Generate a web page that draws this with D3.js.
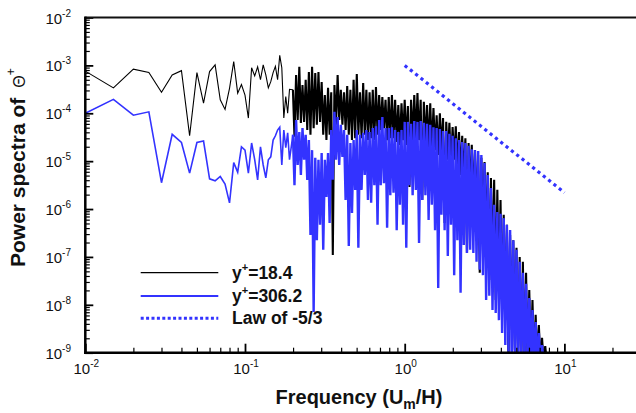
<!DOCTYPE html>
<html>
<head>
<meta charset="utf-8">
<script src="https://cdn.jsdelivr.net/npm/d3@7"></script>
<style>
  body { margin: 0; background: #fff; }
  svg { display: block; font-family: "Liberation Sans", Arial, sans-serif; }
</style>
</head>
<body>
<script>
// ---- data (power given as log10 exponents) ----
// low frequencies, one point per sample (df = 0.005)
const lowFreq = [0.010, 0.015, 0.020, 0.025, 0.030, 0.035, 0.040, 0.045, 0.050, 0.055,
  0.060, 0.065, 0.070, 0.075, 0.080, 0.085, 0.090, 0.095, 0.100, 0.105,
  0.110, 0.115, 0.120, 0.125, 0.130, 0.135, 0.140, 0.145, 0.150, 0.155,
  0.160, 0.165, 0.170, 0.175, 0.180, 0.185, 0.190];
const blackLow = [-3.12, -3.47, -3.08, -3.15, -3.56, -3.20, -3.11, -4.47, -3.15, -3.79,
  -3.13, -2.99, -3.72, -3.92, -3.48, -2.92, -3.58, -3.40, -3.62, -4.10,
  -3.05, -3.22, -3.03, -3.30, -2.99, -3.20, -3.47, -3.34, -3.15, -3.02,
  -3.30, -2.79, -3.05, -4.10, -3.65, -4.00, -3.50];
const blueLow = [-4.00, -3.71, -4.04, -3.97, -5.45, -4.44, -4.61, -5.25, -4.61, -4.58,
  -5.37, -5.41, -5.32, -5.48, -5.87, -5.03, -5.23, -4.70, -4.77, -5.25,
  -4.62, -4.97, -5.39, -4.70, -5.08, -5.35, -4.97, -4.91, -4.56, -4.47,
  -4.35, -4.29, -5.08, -4.35, -4.72, -4.41, -4.97];

// dense part: upper / lower value of the band at each frequency
const denseFreq = [0.1995, 0.2089, 0.2188, 0.2291, 0.2399, 0.2512, 0.2630, 0.2754, 0.2884, 0.3020,
  0.3162, 0.3311, 0.3467, 0.3631, 0.3802, 0.3981, 0.4169, 0.4365, 0.4571, 0.4786,
  0.5012, 0.5248, 0.5495, 0.5754, 0.6026, 0.6310, 0.6607, 0.6918, 0.7244, 0.7586,
  0.7943, 0.8318, 0.8710, 0.9120, 0.9550, 1.000, 1.047, 1.096, 1.148, 1.202,
  1.259, 1.318, 1.380, 1.445, 1.514, 1.585, 1.660, 1.738, 1.820, 1.905,
  1.995, 2.089, 2.188, 2.291, 2.399, 2.512, 2.630, 2.754, 2.884, 3.020,
  3.162, 3.311, 3.467, 3.631, 3.802, 3.981, 4.169, 4.365, 4.571, 4.786,
  5.012, 5.248, 5.495, 5.754, 6.026, 6.310, 6.607, 6.918, 7.244, 7.586,
  7.943, 8.318, 8.710];
const blackHi = [-3.51, -3.20, -3.03, -3.41, -3.30, -3.14, -3.03, -3.16, -3.14, -3.35,
  -3.62, -3.47, -3.56, -3.41, -3.20, -3.51, -3.56, -3.43, -3.51, -3.30,
  -3.18, -3.56, -3.37, -3.51, -3.56, -3.51, -3.45, -3.62, -3.66, -3.72,
  -3.66, -3.62, -3.72, -3.83, -3.79, -3.72, -3.85, -3.72, -3.62, -3.58,
  -3.72, -3.76, -3.83, -3.79, -3.89, -4.04, -4.00, -4.10, -4.18, -4.20,
  -4.29, -4.27, -4.39, -4.47, -4.52, -4.62, -4.66, -4.77, -4.87, -4.93,
  -5.02, -5.23, -5.35, -5.39, -5.60, -5.81, -6.12, -6.33, -6.54, -6.65,
  -6.81, -7.00, -7.10, -7.33, -7.69, -7.90, -8.21, -8.42, -8.69, -8.86,
  -9.11, -9.2, -9.2];
const blackLo = [-4.49, -4.14, -4.20, -4.18, -4.35, -4.45, -4.31, -4.24, -4.18, -4.45,
  -4.56, -4.45, -6.96, -4.24, -4.14, -4.24, -4.35, -4.45, -4.56, -4.52,
  -4.45, -4.52, -4.45, -4.56, -4.52, -4.56, -4.45, -4.35, -4.31, -4.56,
  -4.52, -4.52, -4.60, -4.66, -4.56, -4.66, -5.54, -4.56, -4.56, -4.56,
  -5.81, -4.66, -4.77, -4.77, -4.77, -4.87, -4.77, -6.29, -4.97, -5.08,
  -4.97, -5.18, -5.29, -5.39, -6.92, -5.60, -5.81, -6.02, -7.33, -6.44,
  -6.65, -7.48, -7.27, -7.90, -7.69, -8.11, -8.32, -9.2, -8.52, -8.94,
  -9.2, -9.2, -9.2, -9.2, -9.2, -9.2, -9.2, -9.2, -9.2, -9.2,
  -9.2, -9.2, -9.2];
const blueHi = [-4.45, -4.14, -4.39, -4.31, -4.45, -4.56, -4.77, -4.93, -4.97, -4.83,
  -4.97, -4.83, -4.35, -3.97, -4.08, -4.24, -4.35, -4.45, -4.62, -4.56,
  -4.35, -4.45, -4.41, -4.35, -4.39, -4.31, -4.27, -4.14, -4.08, -4.31,
  -4.31, -4.29, -4.35, -4.39, -4.35, -4.18, -4.18, -4.22, -4.16, -4.18,
  -4.16, -4.20, -4.22, -4.24, -4.29, -4.31, -4.33, -4.37, -4.37, -4.43,
  -4.47, -4.52, -4.56, -4.60, -4.62, -4.68, -4.75, -4.77, -4.79, -4.87,
  -5.04, -5.29, -5.56, -5.91, -6.06, -6.10, -6.19, -6.33, -6.44, -6.65,
  -6.85, -7.10, -7.33, -7.56, -7.86, -8.11, -8.36, -8.59, -8.84, -9.11,
  -9.2, -9.2, -9.2];
const blueLo = [-5.50, -5.08, -5.29, -4.97, -5.39, -6.54, -8.15, -6.65, -6.33, -6.85,
  -5.75, -6.29, -5.39, -4.97, -5.08, -4.91, -5.81, -6.77, -6.08, -5.60,
  -6.81, -5.60, -5.29, -5.81, -5.87, -5.50, -6.33, -5.50, -5.46, -6.39,
  -5.71, -5.66, -6.44, -5.91, -6.33, -6.81, -5.50, -5.71, -5.60, -6.71,
  -5.81, -5.71, -6.23, -5.91, -6.44, -7.65, -6.12, -6.44, -6.98, -6.33,
  -7.38, -6.65, -7.75, -6.75, -6.92, -6.85, -6.92, -7.10, -7.27, -7.38,
  -7.90, -7.81, -8.11, -8.17, -8.32, -8.59, -8.84, -8.98, -9.2, -9.2,
  -9.2, -9.2, -9.2, -9.2, -9.2, -9.2, -9.2, -9.2, -9.2, -9.2,
  -9.2, -9.2, -9.2];

// reference slope line
const lawFreq = [1, 10];
const lawPow = [1.0e-3, 2.2e-6];

const xMajor = [0.01, 0.1, 1, 10];
const xMinor = [0.02, 0.03, 0.04, 0.05, 0.06, 0.07, 0.08, 0.09, 0.2, 0.3, 0.4, 0.5, 0.6, 0.7, 0.8, 0.9,
  2, 3, 4, 5, 6, 7, 8, 9, 20];
const yExp = [-9, -8, -7, -6, -5, -4, -3, -2];
const legendLabels = [["y", "+", "=18.4"], ["y", "+", "=306.2"], ["Law of -5/3", "", ""]];

// ---- chart ----
const W = 636, H = 413;
const blue = "#3333ff";
const svg = d3.select("body").append("svg").attr("width", W).attr("height", H);

const x = d3.scaleLog().domain([0.01, 30]).range([85.3, 640.6]);
const y = d3.scaleLog().domain([1e-9, 1e-2]).range([352.7, 17.5]);

svg.append("clipPath").attr("id", "plot")
  .append("rect").attr("x", 85.3).attr("y", 17.5).attr("width", W - 85).attr("height", 335.2);

// sparse part (plus first dense point so the two paths join)
function lowPart(lowE, hi) {
  return lowFreq.map((f, i) => [f, Math.pow(10, lowE[i])])
    .concat([[denseFreq[0], Math.pow(10, hi[0])]]);
}
// dense part: zig-zag between band top and bottom
function densePart(hi, lo) {
  const pts = [];
  denseFreq.forEach((f, i) => {
    pts.push([f, Math.pow(10, hi[i])]);
    pts.push([f * 1.023, Math.pow(10, lo[i])]);
  });
  return pts;
}

const line = d3.line().x(d => x(d[0])).y(d => y(d[1]));
const plot = svg.append("g").attr("clip-path", "url(#plot)");

function drawSeries(lowE, hi, lo, color, w1, w2) {
  plot.append("path").attr("d", line(lowPart(lowE, hi)))
    .attr("fill", "none").attr("stroke", color).attr("stroke-width", w1);
  plot.append("path").attr("d", line(densePart(hi, lo)))
    .attr("fill", "none").attr("stroke", color).attr("stroke-width", w2)
    .attr("stroke-linejoin", "bevel");
}
drawSeries(blackLow, blackHi, blackLo, "#000", 1.1, 2.1);
drawSeries(blueLow, blueHi, blueLo, blue, 1.6, 2.4);

plot.append("path")
  .attr("d", line(lawFreq.map((f, i) => [f, lawPow[i]])))
  .attr("fill", "none").attr("stroke", blue).attr("stroke-width", 3.2)
  .attr("stroke-dasharray", "3.2,3.6");

// axes: ticks point inward
const yMinor = [];
yExp.slice(0, -1).forEach(e => { for (let m = 2; m <= 9; m++) yMinor.push(m * Math.pow(10, e)); });

svg.append("g").attr("transform", "translate(85.3,0)")
  .call(d3.axisLeft(y).tickValues(yMinor).tickSize(-4.5).tickFormat(""))
  .call(g => g.select(".domain").remove())
  .selectAll("line").attr("stroke-width", 1.2);
svg.append("g").attr("transform", "translate(85.3,0)")
  .call(d3.axisLeft(y).tickValues(yExp.map(e => Math.pow(10, e))).tickSize(-8).tickFormat(""))
  .call(g => g.select(".domain").remove())
  .selectAll("line").attr("stroke-width", 1.8);

svg.append("g").attr("transform", "translate(0,352.7)")
  .call(d3.axisBottom(x).tickValues(xMinor).tickSize(-5).tickFormat(""))
  .call(g => g.select(".domain").remove())
  .selectAll("line").attr("stroke-width", 1.2);
svg.append("g").attr("transform", "translate(0,352.7)")
  .call(d3.axisBottom(x).tickValues(xMajor).tickSize(-9).tickFormat(""))
  .call(g => g.select(".domain").remove())
  .selectAll("line").attr("stroke-width", 1.8);

// frame lines
svg.append("line").attr("x1", 85.3).attr("x2", W).attr("y1", 17.5).attr("y2", 17.5)
  .attr("stroke", "#111").attr("stroke-width", 2);
svg.append("line").attr("x1", 85.3).attr("x2", 85.3).attr("y1", 16.5).attr("y2", 354)
  .attr("stroke", "#000").attr("stroke-width", 2.5);
svg.append("line").attr("x1", 84).attr("x2", W).attr("y1", 352.7).attr("y2", 352.7)
  .attr("stroke", "#000").attr("stroke-width", 2.5);

// tick labels
const yLab = svg.append("g").selectAll("text").data(yExp).join("text")
  .attr("x", 71).attr("y", e => y(Math.pow(10, e)) + 6)
  .attr("text-anchor", "end").attr("font-size", 15).attr("fill", "#111");
yLab.append("tspan").text("10");
yLab.append("tspan").attr("font-size", 10).attr("dy", -7).text(e => e);

const xLab = svg.append("g").selectAll("text").data(xMajor).join("text")
  .attr("x", d => x(d) + 1).attr("y", 374)
  .attr("text-anchor", "middle").attr("font-size", 15).attr("fill", "#111");
xLab.append("tspan").text("10");
xLab.append("tspan").attr("font-size", 10).attr("dy", -7).text(d => Math.round(Math.log10(d)));

// axis titles
const xt = svg.append("text").attr("x", 359).attr("y", 404).attr("text-anchor", "middle")
  .attr("font-size", 20).attr("font-weight", "bold").attr("fill", "#111");
xt.append("tspan").text("Frequency (U");
xt.append("tspan").attr("font-size", 14).attr("dy", 5).text("m");
xt.append("tspan").attr("dy", -5).text("/H)");

const yt = svg.append("text").attr("transform", "translate(25,267) rotate(-90)")
  .attr("font-size", 21).attr("font-weight", "bold").attr("fill", "#111");
yt.append("tspan").text("Power spectra of");
yt.append("tspan").attr("font-weight", "normal").attr("font-size", 16).attr("dx", 10).text("\u0398");
yt.append("tspan").attr("font-weight", "normal").attr("font-size", 12).attr("dy", -10).text("+");

// legend
const legY = [272.7, 296, 318.3];
const leg = svg.append("g").selectAll("g").data(legendLabels).join("g")
  .attr("transform", (d, i) => `translate(0,${legY[i]})`);
leg.append("line").attr("x1", 140.7).attr("x2", 218.3)
  .attr("stroke", (d, i) => i === 0 ? "#000" : blue)
  .attr("stroke-width", (d, i) => i === 0 ? 1.2 : (i === 1 ? 2 : 3))
  .attr("stroke-dasharray", (d, i) => i === 2 ? "3,2.4" : null);
const legText = leg.append("text").attr("x", 232).attr("y", 5.8)
  .attr("font-size", 17.5).attr("font-weight", "bold").attr("fill", "#111");
legText.append("tspan").text(d => d[0]);
legText.append("tspan").attr("font-size", 11).attr("dy", d => d[1] ? -8 : 0).text(d => d[1]);
legText.append("tspan").attr("dy", d => d[1] ? 8 : 0).text(d => d[2]);
</script>
</body>
</html>
